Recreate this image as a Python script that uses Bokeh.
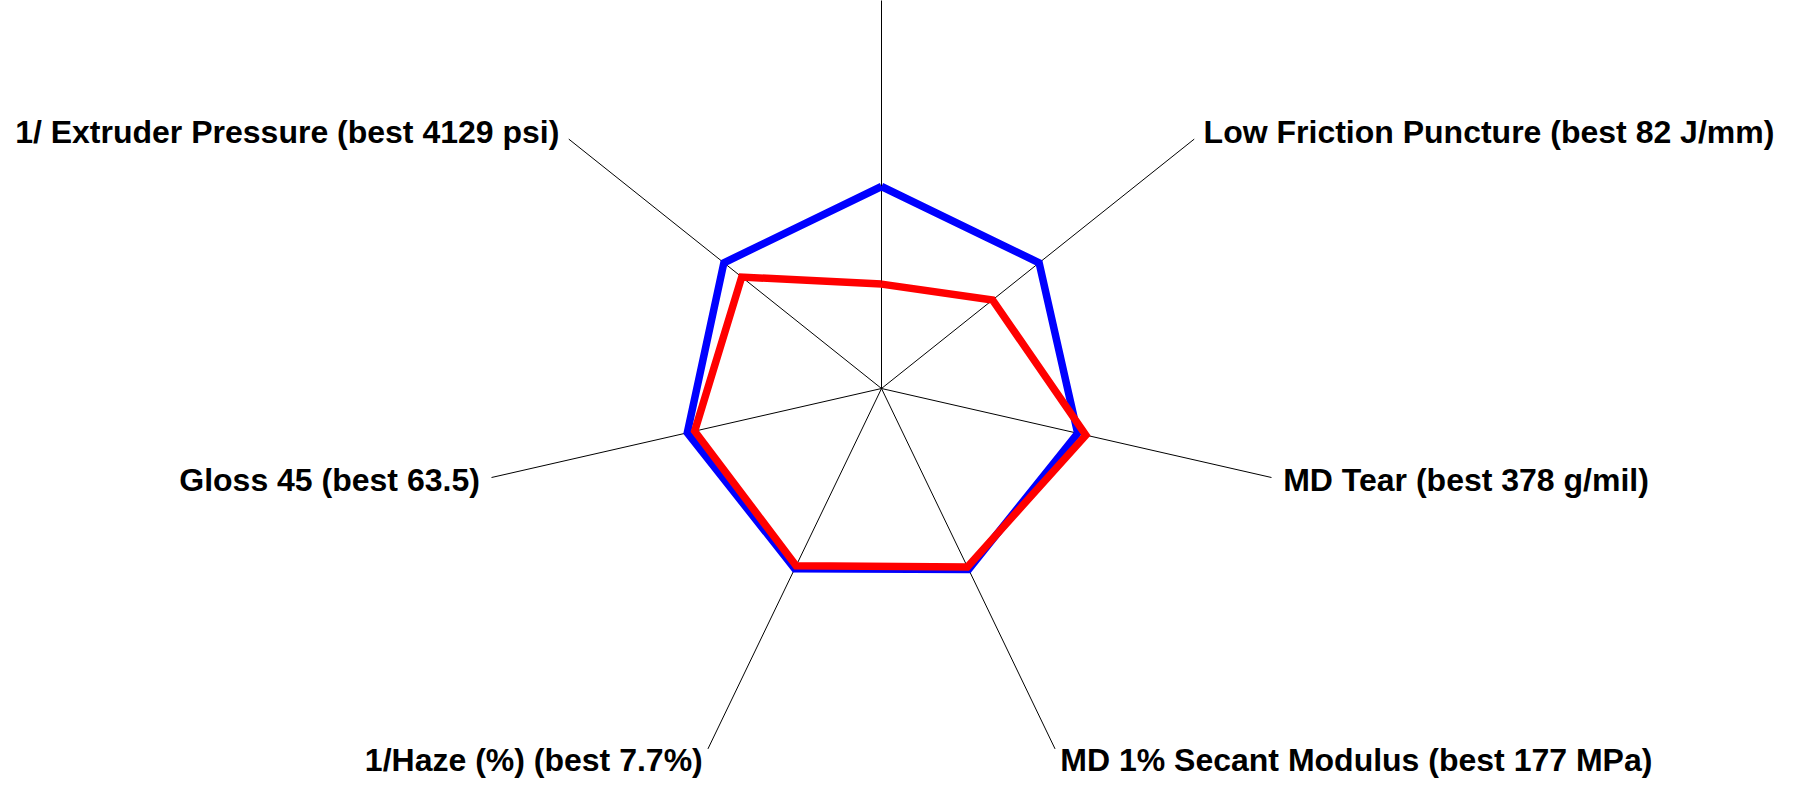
import numpy as np
from bokeh.plotting import figure
from bokeh.models import Range1d
from bokeh.embed import file_html
from bokeh.resources import INLINE
from bokeh.core.properties import value

# ---- data ----
categories = [
    "",
    "Low Friction Puncture (best 82 J/mm)",
    "MD Tear (best 378 g/mil)",
    "MD 1% Secant Modulus (best 177 MPa)",
    "1/Haze (%) (best 7.7%)",
    "Gloss 45 (best 63.5)",
    "1/ Extruder Pressure (best 4129 psi)",
]
blue_values = [0.505, 0.504, 0.503, 0.502, 0.500, 0.498, 0.504]
red_values = [0.261, 0.355, 0.524, 0.495, 0.492, 0.479, 0.447]

# ---- layout ----
W, H = 1789, 782
CX, CY = 881, 388      # centre in canvas pixels (from top-left)
RPX = 400              # pixels per unit radius

n = len(categories)
angles = np.pi / 2 - 2 * np.pi * np.arange(n) / n

p = figure(width=W, height=H, output_backend="svg", toolbar_location=None,
           x_range=Range1d(-CX / RPX, (W - CX) / RPX),
           y_range=Range1d(-(H - CY) / RPX, CY / RPX),
           min_border=0, background_fill_color="white",
           border_fill_color="white")
p.axis.visible = False
p.grid.visible = False
p.outline_line_color = None

# spokes
xs = [[0, np.cos(a)] for a in angles]
ys = [[0, np.sin(a)] for a in angles]
p.multi_line(xs, ys, line_color="black", line_width=1)

def closed(vals):
    v = np.array(vals + vals[:1])
    a = np.concatenate([angles, angles[:1]])
    return v * np.cos(a), v * np.sin(a)

bx, by = closed(blue_values)
p.line(bx, by, line_color="#0000FF", line_width=7.5, line_join="miter")
rx, ry = closed(red_values)
p.line(rx, ry, line_color="#FF0000", line_width=7.5, line_join="miter")

# labels
RL = 1.03
for name, a in zip(categories, angles):
    if not name:
        continue
    c = np.cos(a)
    align = "left" if c > 0.01 else ("right" if c < -0.01 else "center")
    p.text(x=[RL * np.cos(a)], y=[RL * np.sin(a)], text=[name],
           text_align=align, text_baseline="middle",
           text_font=value("Liberation Sans"), text_font_style="bold",
           text_font_size="32px", text_color="black")

open("out.html", "w").write(file_html(p, INLINE))
